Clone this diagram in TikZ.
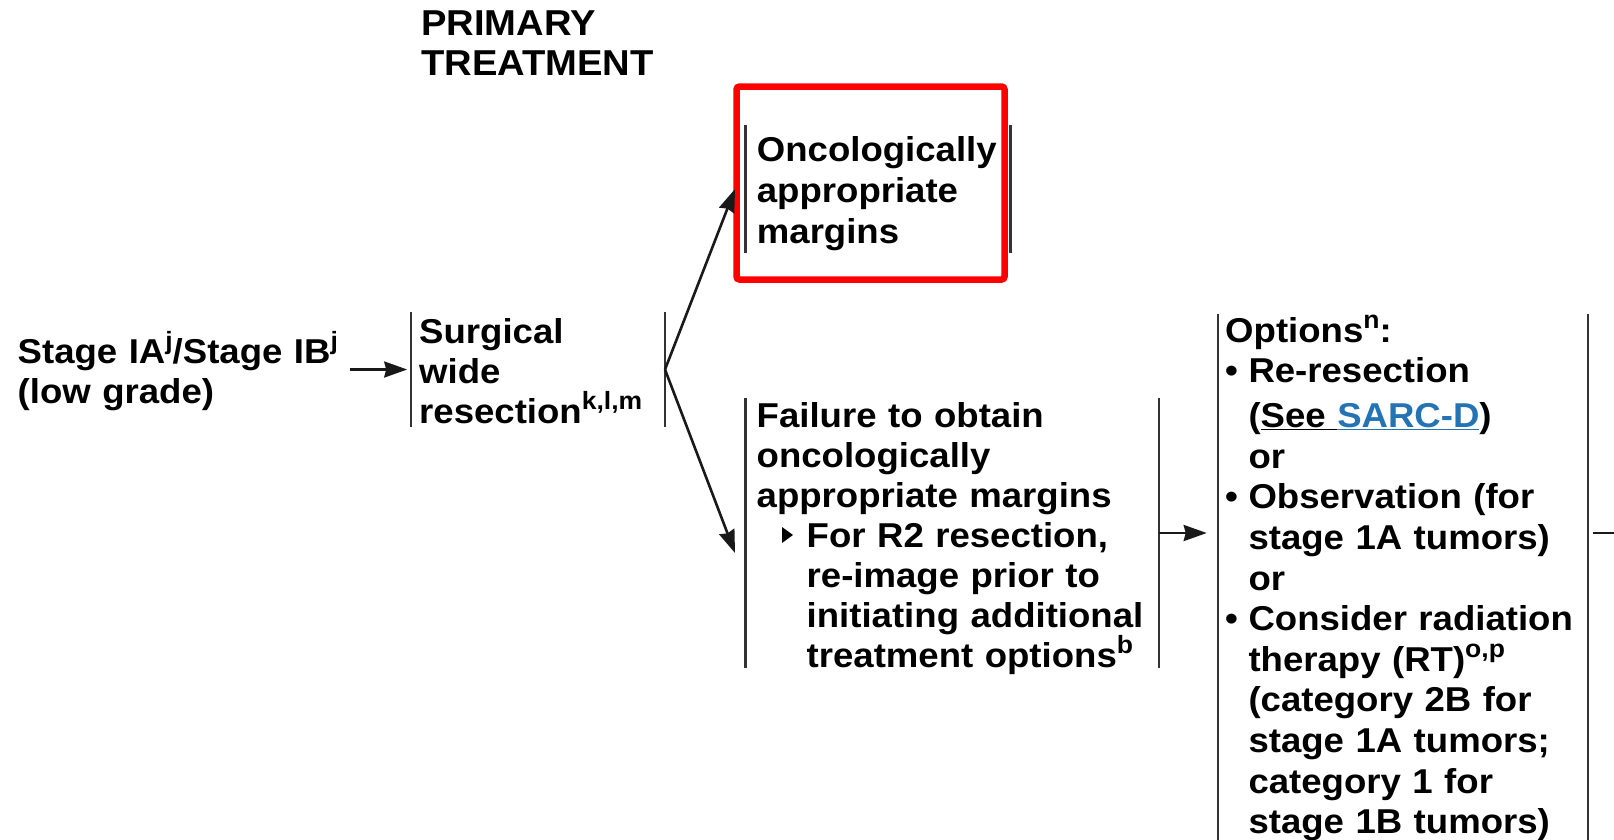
\documentclass[tikz,border=0pt]{standalone}
\usepackage{fontspec}
\setmainfont{Liberation Sans}[FakeStretch=1.06]
\usetikzlibrary{arrows.meta,calc}
\definecolor{linkblue}{RGB}{36,116,181}
\definecolor{hlred}{RGB}{255,0,0}
\newcommand{\ind}{\hspace*{23.3pt}}
\newcommand{\bul}{\makebox[23.3pt][l]{•}}
\newcommand{\sps}[1]{\raisebox{0.4em}{\fontsize{25}{25}\selectfont #1}}
\begin{document}
\begin{tikzpicture}[x=1pt,y=-1pt,
  txt/.style={inner sep=0pt, anchor=base west, align=left, font=\fontsize{34.5}{40.3}\selectfont\bfseries},
  frame/.style={inner sep=0pt, outer sep=0pt, draw=none},
  bar/.style={line width=2.4pt, draw=black!80},
  arr/.style={line width=2.6pt, draw=black!90, -{Stealth[length=23pt,width=16pt,inset=2pt]}}]
\useasboundingbox (0,0) rectangle (1614,839);
% frames
\node[frame, minimum width=254.3pt, minimum height=115pt] (surg) at (537.85,369.5) {};
\node[frame, minimum width=265pt, minimum height=128pt] (onc) at (878,189) {};
\node[frame, minimum width=413.5pt, minimum height=270pt] (fail) at (952.25,533) {};
\node[frame, minimum width=370.3pt, minimum height=531pt] (opt) at (1402.85,579.5) {};
\node[draw=hlred, line width=6.5pt, rounded corners=3pt, minimum width=268pt, minimum height=193pt, inner sep=0pt] (hl) at (870.5,183) {};
\foreach \n in {surg,onc,fail,opt}{
  \draw[bar] (\n.north west) -- (\n.south west);
  \draw[bar] (\n.north east) -- (\n.south east);
}
% texts
\node[txt, text width=260pt, font=\fontsize{36}{40}\selectfont\bfseries] (title) at (421,35) {PRIMARY\\TREATMENT};
\node[txt, text width=332pt, font=\fontsize{34.5}{40}\selectfont\bfseries] (stage) at (17.5,363) {Stage IA\sps{j}/Stage IB\sps{j}\\(low grade)};
\node[txt, text width=246pt, font=\fontsize{34.5}{40}\selectfont\bfseries] (surgt) at (419,343) {Surgical\\wide\\resection\sps{k,l,m}};
\node[txt, text width=250pt, font=\fontsize{34.5}{41}\selectfont\bfseries] (onct) at (756.7,161) {Oncologically\\appropriate\\margins};
\node[txt, text width=400pt, font=\fontsize{34.5}{40}\selectfont\bfseries] (failt) at (756.5,427) {Failure to obtain\\oncologically\\appropriate margins\\
\hspace*{50pt}For R2 resection,\\
\hspace*{50pt}re-image prior to\\
\hspace*{50pt}initiating additional\\
\hspace*{50pt}treatment options\sps{b}};
\fill[black] (782,527) -- (793,535) -- (782,543) -- cycle;
\node[txt, text width=380pt, font=\fontsize{34.5}{40.6}\selectfont\bfseries] (optt) at (1225,342) {Options\sps{n}:\\
\bul Re-resection\\[4.5pt]
\ind(\underline{See }\textcolor{linkblue}{\underline{SARC-D}})\\
\ind or\\
\bul Observation (for\\
\ind stage 1A tumors)\\
\ind or\\
\bul Consider radiation\\
\ind therapy (RT)\sps{o,p}\\
\ind (category 2B for\\
\ind stage 1A tumors;\\
\ind category 1 for\\
\ind stage 1B tumors)};
% connectors
\draw[arr] (stage.east |- surg.west) -- ([xshift=-3.5pt]surg.west);
\draw[arr] (surg.east) -- ([xshift=-10.5pt]onc.west);
\draw[arr] (surg.east) -- ([xshift=-10.5pt,yshift=-20pt]fail.west);
\coordinate (optin) at ([xshift=-11pt]opt.west);
\draw[arr] (fail.east) -- (optin |- fail.east);
\coordinate (offr) at (1642,533);
\draw[arr, shorten <=5pt] (opt.east |- fail.east) -- (offr);
\end{tikzpicture}
\end{document}
